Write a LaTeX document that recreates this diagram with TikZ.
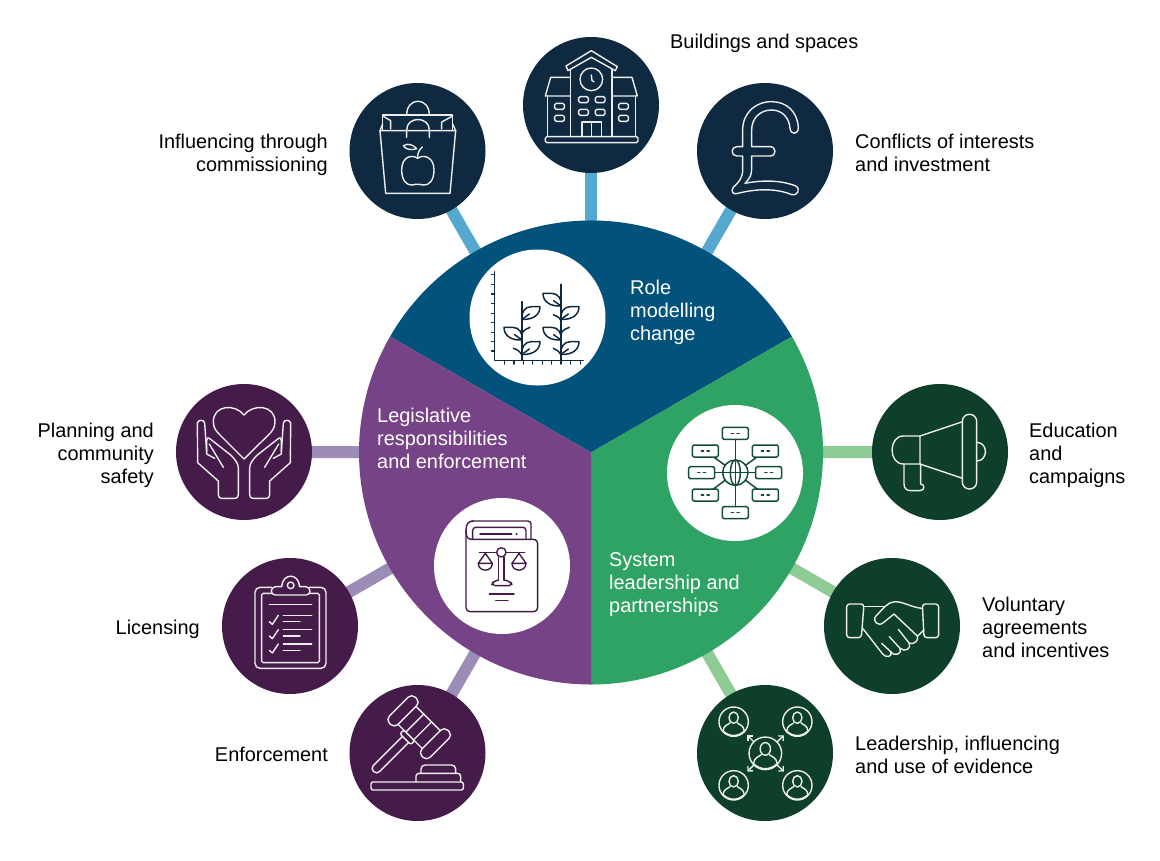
\documentclass[tikz,border=0pt]{standalone}
\usepackage{fontspec}
\setmainfont{Liberation Sans}
\usetikzlibrary{arrows.meta, backgrounds}
\definecolor{roleblue}{HTML}{03527C}
\definecolor{rolelight}{HTML}{55A9CF}
\definecolor{roledark}{HTML}{0F2A40}
\definecolor{lawpurple}{HTML}{764386}
\definecolor{lawlight}{HTML}{9C8CB8}
\definecolor{lawdark}{HTML}{451C49}
\definecolor{sysgreen}{HTML}{2EA363}
\definecolor{syslight}{HTML}{8FCB94}
\definecolor{sysdark}{HTML}{0D3F2A}
\definecolor{iconline}{HTML}{EDEDED}
\tikzset{
  sat/.style={circle, minimum size=136pt, inner sep=0pt, outer sep=0pt},
  badge/.style={circle, fill=white, minimum size=136pt, inner sep=0pt, outer sep=0pt},
  spoke/.style={line width=12pt, shorten >=-2pt, shorten <=-2pt},
  lab/.style={font=\fontsize{19.9}{23}\selectfont, inner sep=0pt, align=left, anchor=west},
  labr/.style={font=\fontsize{19.9}{23}\selectfont, inner sep=0pt, align=right, anchor=east},
  labw/.style={lab, text=white},
  crop/.style={x=0.33333pt, y=-0.33333pt},
  icon/.style={draw=iconline, line width=1.4pt, line join=round, line cap=round},
  leaf/.pic={
    \draw (0,0) .. controls (-3,-20) and (8,-38) .. (28,-38) -- (54,-38) .. controls (54,-15) and (35,2) .. (0,0) -- cycle;
    \draw (0,0) -- (22,-16);
  },
  person/.pic={
    \draw (0,-12) ellipse [x radius=14, y radius=17];
    \draw (-32,28) .. controls (-30,12) and (-20,10) .. (-11,4);
    \draw (32,28) .. controls (30,12) and (20,10) .. (11,4);
    \draw (-32,28) .. controls (-12,46) and (12,46) .. (32,28);
    \draw (0,0) circle (44);
  },
}
\begin{document}
\begin{tikzpicture}[x=1pt, y=-1pt]
  \useasboundingbox (0,0) rectangle (1160,860);
  % hub and the three sectors
  \node[circle, minimum size=464pt, inner sep=0pt, outer sep=0pt] (hub) at (591,452.5) {};
  \fill[roleblue] (hub.center) -- (hub.150) arc[start angle=150, end angle=30, radius=232pt] -- cycle;
  \fill[sysgreen] (hub.center) -- (hub.30) arc[start angle=30, end angle=-90, radius=232pt] -- cycle;
  \fill[lawpurple] (hub.center) -- (hub.-90) arc[start angle=-90, end angle=-210, radius=232pt] -- cycle;
  \node[badge] (roleBadge) at (537.5,317.5) {};
  \node[badge] (sysBadge) at (735,473) {};
  \node[badge] (lawBadge) at (502,566) {};
  % satellites
  \node[sat, fill=roledark] (bag) at (417.5,151) {};
  \node[sat, fill=roledark] (school) at (591,105) {};
  \node[sat, fill=roledark] (pound) at (765,151) {};
  \node[sat, fill=sysdark] (horn) at (940,452) {};
  \node[sat, fill=sysdark] (shake) at (892,626) {};
  \node[sat, fill=sysdark] (people) at (765,753) {};
  \node[sat, fill=lawdark] (gavel) at (417.5,753) {};
  \node[sat, fill=lawdark] (clip) at (290,626) {};
  \node[sat, fill=lawdark] (hands) at (244,452) {};
  \begin{scope}[on background layer]
    \foreach \s in {bag,school,pound} \draw[spoke, rolelight] (hub) -- (\s);
    \foreach \s in {horn,shake,people} \draw[spoke, syslight] (hub) -- (\s);
    \foreach \s in {gavel,clip,hands} \draw[spoke, lawlight] (hub) -- (\s);
  \end{scope}
  % labels
  \node[lab] (labSchool) at (670,43) {Buildings and spaces};
  \node[labr] (labBag) at (328,154.5) {Influencing through\\commissioning};
  \node[lab] (labPound) at (855,152.5) {Conflicts of interests\\and investment};
  \node[lab] (labHorn) at (1029,455) {Education\\and\\campaigns};
  \node[lab] (labShake) at (982,627) {Voluntary\\agreements\\and incentives};
  \node[lab] (labPeople) at (855,754.5) {Leadership, influencing\\and use of evidence};
  \node[labr] (labGavel) at (328,754) {Enforcement};
  \node[labr] (labClip) at (200,629) {Licensing};
  \node[labr] (labHands) at (154,455) {Planning and\\community\\safety};
  \node[labw] (labRole) at (630,312) {Role\\modelling\\change};
  \node[labw] (labLaw) at (377,438.5) {Legislative\\responsibilities\\and enforcement};
  \node[labw] (labSys) at (609,585) {System\\leadership and\\partnerships};
  % bag, school, pound
  \begin{scope}[shift={(340,30)}, crop, every path/.style={icon}]
    \draw (200,255) .. controls (200,200) and (268,200) .. (268,255);
    \draw (128,300) -- (128,255) -- (338,255) -- (338,300);
    \draw (128,258) -- (152,272) -- (152,297);
    \draw (338,258) -- (305,276) -- (305,297);
    \draw (120,302) -- (347,302) -- (330,490) -- (137,490) -- cycle;
    \draw (128,282) -- (120,302) (338,282) -- (347,302);
    \draw (200,322) -- (200,300) .. controls (200,258) and (268,258) .. (268,300) -- (268,322);
    \draw (233,385) .. controls (215,372) and (185,380) .. (185,420) .. controls (185,450) and (200,468) .. (218,465) .. controls (225,462) and (240,462) .. (248,465) .. controls (268,468) and (282,450) .. (282,420) .. controls (282,380) and (250,372) .. (233,385) -- cycle;
    \draw (190,347) .. controls (205,338) and (220,345) .. (230,356) .. controls (212,362) and (197,358) .. (190,347);
    \draw (233,383) .. controls (232,370) and (238,358) .. (247,351);
    % school
    \draw (678,108) -- (754,62) -- (832,110) -- (826,122) -- (754,82) -- (684,122) -- cycle;
    \draw (692,118) -- (692,318) (816,118) -- (816,318);
    \draw (754,148) circle (34);
    \draw (754,135) -- (756,152) -- (762,155);
    \draw (692,142) -- (632,142) -- (616,198) -- (692,198) (816,142) -- (876,142) -- (892,198) -- (816,198);
    \draw (622,198) -- (622,318) (886,198) -- (886,318);
    \foreach \wx/\wy in {644/220,644/256,836/220,836/256,716/200,766/200,716/238,766/238}
      \draw[rounded corners=1.5pt] (\wx,\wy) rectangle ++(29,18);
    \draw (726,318) -- (726,276) -- (784,276) -- (784,318) (755,276) -- (755,318);
    \draw[rounded corners=1.5pt] (616,320) rectangle (894,338);
    % pound
    \draw (1375,292) .. controls (1372,245) and (1340,215) .. (1295,215) .. controls (1245,215) and (1208,250) .. (1208,300) -- (1208,350) -- (1190,350) .. controls (1172,350) and (1172,378) .. (1190,378) -- (1208,378) -- (1208,420) .. controls (1208,445) and (1195,458) .. (1180,472) .. controls (1172,482) and (1178,494) .. (1190,491) .. controls (1250,475) and (1310,475) .. (1355,494) .. controls (1372,500) and (1385,475) .. (1365,467) .. controls (1320,450) and (1265,450) .. (1215,460) .. controls (1230,445) and (1235,435) .. (1235,415) -- (1235,378) -- (1290,378) .. controls (1310,378) and (1310,350) .. (1290,350) -- (1235,350) -- (1235,300) .. controls (1235,265) and (1260,240) .. (1295,240) .. controls (1325,240) and (1348,262) .. (1350,295) .. controls (1352,315) and (1376,315) .. (1375,292) -- cycle;
  \end{scope}
  % plant chart
  \begin{scope}[shift={(460,240)}, crop, every path/.style={draw=roledark, line width=1.5pt, line cap=round, line join=round}]
    \draw (104,95) -- (104,362) -- (370,362);
    \foreach \ty in {104,133,162,191,220,248,277,305,333} \draw (95,\ty) -- (104,\ty);
    \foreach \tx in {133,162,190,218,247,275,303,332,361} \draw (\tx,362) -- (\tx,372);
    \draw (186,185) -- (186,362) (303,133) -- (303,362);
    \pic at (186,238) {leaf};
    \pic at (186,343) {leaf};
    \pic at (303,238) {leaf};
    \pic at (303,343) {leaf};
    \pic[xscale=-1] at (186,300) {leaf};
    \pic[xscale=-1] at (303,198) {leaf};
    \pic[xscale=-1] at (303,300) {leaf};
    \draw (186,280) .. controls (192,270) and (200,265) .. (210,262);
    \draw (186,345) .. controls (180,335) and (172,328) .. (160,325);
    \draw (303,242) .. controls (298,232) and (290,227) .. (280,224);
    \draw (303,280) .. controls (309,270) and (318,265) .. (328,262);
    \draw (303,345) .. controls (298,335) and (290,328) .. (280,325);
  \end{scope}
  % network
  \begin{scope}[shift={(660,400)}, crop, every path/.style={draw=sysdark!85!sysgreen, line width=1.5pt, line cap=round, line join=round}]
    \foreach \bx/\by in {226/100,136/153,316/153,125/218,326/218,136/285,316/285,226/338} {
      \draw (226,218) -- (\bx,\by);
      \draw[fill=white, rounded corners=1.5pt] (\bx-39,\by-18) rectangle (\bx+39,\by+18);
      \draw (\bx-12,\by) -- (\bx-5,\by) (\bx+5,\by) -- (\bx+12,\by);
    }
    \draw[fill=white] (226,218) circle (38);
    \draw (226,218) ellipse [x radius=15, y radius=38];
    \draw (188,218) -- (264,218) (226,180) -- (226,256);
  \end{scope}
  % law book
  \begin{scope}[shift={(430,495)}, crop, every path/.style={draw=lawdark, line width=1.4pt, line cap=round, line join=round}]
    \draw[rounded corners=4pt] (108,105) -- (108,350) -- (323,350) -- (323,133) -- (125,133);
    \draw (125,133) .. controls (112,133) and (108,125) .. (108,105) .. controls (108,88) and (115,78) .. (130,78);
    \draw[rounded corners=3pt] (125,78) -- (303,78) -- (303,133);
    \draw[rounded corners=3pt] (128,133) -- (128,97) -- (288,97) -- (288,133);
    \draw (150,117) -- (245,117) (259,117) -- (261,117);
    \draw (148,172) -- (200,172) (228,172) -- (284,172);
    \draw (214,172) circle (14);
    \draw (206,186) -- (206,255) (222,186) -- (222,255);
    \draw[rounded corners=4pt] (206,255) -- (190,258) -- (184,272) -- (248,272) -- (240,258) -- (222,255);
    \draw (178,297) -- (252,297) (197,316) -- (234,316);
    \foreach \px in {166,267} {
      \draw (\px,175) -- (\px-21,205) -- (\px+21,205) -- cycle;
      \draw (\px-21,205) .. controls (\px-21,232) and (\px+21,232) .. (\px+21,205);
    }
  \end{scope}
  % heart hands, clipboard
  \begin{scope}[shift={(170,380)}, crop, every path/.style={icon}]
    \draw (222,105) .. controls (195,70) and (130,75) .. (130,125) .. controls (130,145) and (140,155) .. (150,165) -- (222,237) -- (295,165) .. controls (305,155) and (315,145) .. (315,125) .. controls (315,75) and (250,70) .. (222,105) -- cycle;
    \foreach \s in {1,-1} {
      \begin{scope}[shift={(222,0)}, xscale=\s]
        \draw (-140,130) -- (-139,248) -- (-77,303) -- (-77,345) .. controls (-77,352) and (-72,355) .. (-67,355) -- (-27,355) .. controls (-22,355) and (-17,352) .. (-17,345) -- (-17,265) .. controls (-17,250) and (-25,240) .. (-40,225) -- (-100,178) .. controls (-108,172) and (-112,172) .. (-112,180);
        \draw (-112,215) -- (-118,130) .. controls (-118,118) and (-140,118) .. (-140,130);
        \draw (-112,180) -- (-112,222) -- (-88,235);
        \draw (-104,192) -- (-62,262);
      \end{scope}
    }
    % clipboard
    \draw[rounded corners=5pt] (305,622) -- (255,622) -- (255,865) -- (468,865) -- (468,622) -- (418,622);
    \draw[rounded corners=1.5pt] (305,640) -- (275,640) -- (275,848) -- (448,848) -- (448,640) -- (418,640);
    \draw (335,620) .. controls (338,578) and (386,578) .. (389,620) -- (408,620) .. controls (424,622) and (424,645) .. (408,645) -- (316,645) .. controls (300,645) and (300,622) .. (316,620) -- cycle;
    \draw (362,616) circle (10);
    \draw (298,673) -- (425,673);
    \foreach \dy in {0,43,86} {
      \draw (298,725+\dy) -- (307,733+\dy) -- (325,706+\dy);
      \draw (340,706+\dy) -- (425,706+\dy) (340,725+\dy) -- (390,725+\dy);
    }
  \end{scope}
  % gavel, people
  \begin{scope}[shift={(340,680)}, crop, every path/.style={icon}]
    \begin{scope}[shift={(235,140)}, rotate=-45]
      \draw[rounded corners=5pt] (-84,-56) rectangle (-48,54);
      \draw[rounded corners=5pt] (55,-55) rectangle (90,55);
      \draw (-48,-38) -- (55,-38) (-48,38) -- (55,38);
      \draw (-15,-38) -- (-15,38) (18,-38) -- (18,38);
      \draw[rounded corners=2pt] (-24,38) rectangle (22,54);
      \draw[rounded corners=4pt] (-13,54) -- (-13,190) -- (13,190) -- (13,54);
    \end{scope}
    \draw[rounded corners=2pt] (93,306) rectangle (370,330);
    \draw[rounded corners=3pt] (228,306) -- (228,280) -- (362,280) -- (362,306);
    \draw[rounded corners=4pt] (243,280) -- (243,255) -- (347,255) -- (347,280);
    \pic at (1181,125) {person};
    \pic at (1372,125) {person};
    \pic at (1181,316) {person};
    \pic at (1372,316) {person};
    \pic[scale=1.11] at (1276,220) {person};
    \foreach \ax/\ay in {1222/166,1332/166,1222/275,1332/275}
      \draw[-{Straight Barb[length=3.5pt,width=7pt]}] ({1276+0.64*(\ax-1276)},{220+0.64*(\ay-220)}) -- (\ax,\ay);
  \end{scope}
  % megaphone, handshake
  \begin{scope}[shift={(820,380)}, crop, every path/.style={icon}]
    \draw (300,168) -- (250,168) .. controls (205,168) and (205,252) .. (250,252) -- (300,252) -- cycle;
    \draw (300,168) -- (428,125) (300,252) -- (428,295);
    \draw[rounded corners=7pt] (427,103) rectangle (470,327);
    \draw (470,187) .. controls (505,187) and (505,243) .. (470,243);
    \draw (252,252) -- (252,312) .. controls (252,325) and (260,332) .. (272,332) -- (300,332) .. controls (315,332) and (315,312) .. (302,312) -- (302,252);
    % handshake
    \draw[rounded corners=3pt] (80,672) -- (132,672) -- (124,773) -- (80,773) -- cycle;
    \draw[rounded corners=3pt] (307,672) -- (356,672) -- (356,773) -- (312,773) -- cycle;
    \draw (133,680) -- (192,680);
    \draw (305,685) .. controls (275,682) and (250,665) .. (225,665) .. controls (205,665) and (190,685) .. (168,708) .. controls (155,722) and (175,742) .. (190,728) -- (222,702) -- (292,768);
    \draw (293,768) -- (312,750);
    \draw (128,745) -- (188,822) .. controls (198,835) and (220,830) .. (212,815);
    \draw (212,815) .. controls (225,832) and (248,820) .. (240,805);
    \draw (240,805) .. controls (255,818) and (275,805) .. (268,790);
    \draw (268,790) .. controls (282,795) and (298,780) .. (292,768);
    \draw (185,790) -- (212,815) (208,770) -- (240,805) (235,748) -- (268,790);
  \end{scope}
\end{tikzpicture}
\end{document}
